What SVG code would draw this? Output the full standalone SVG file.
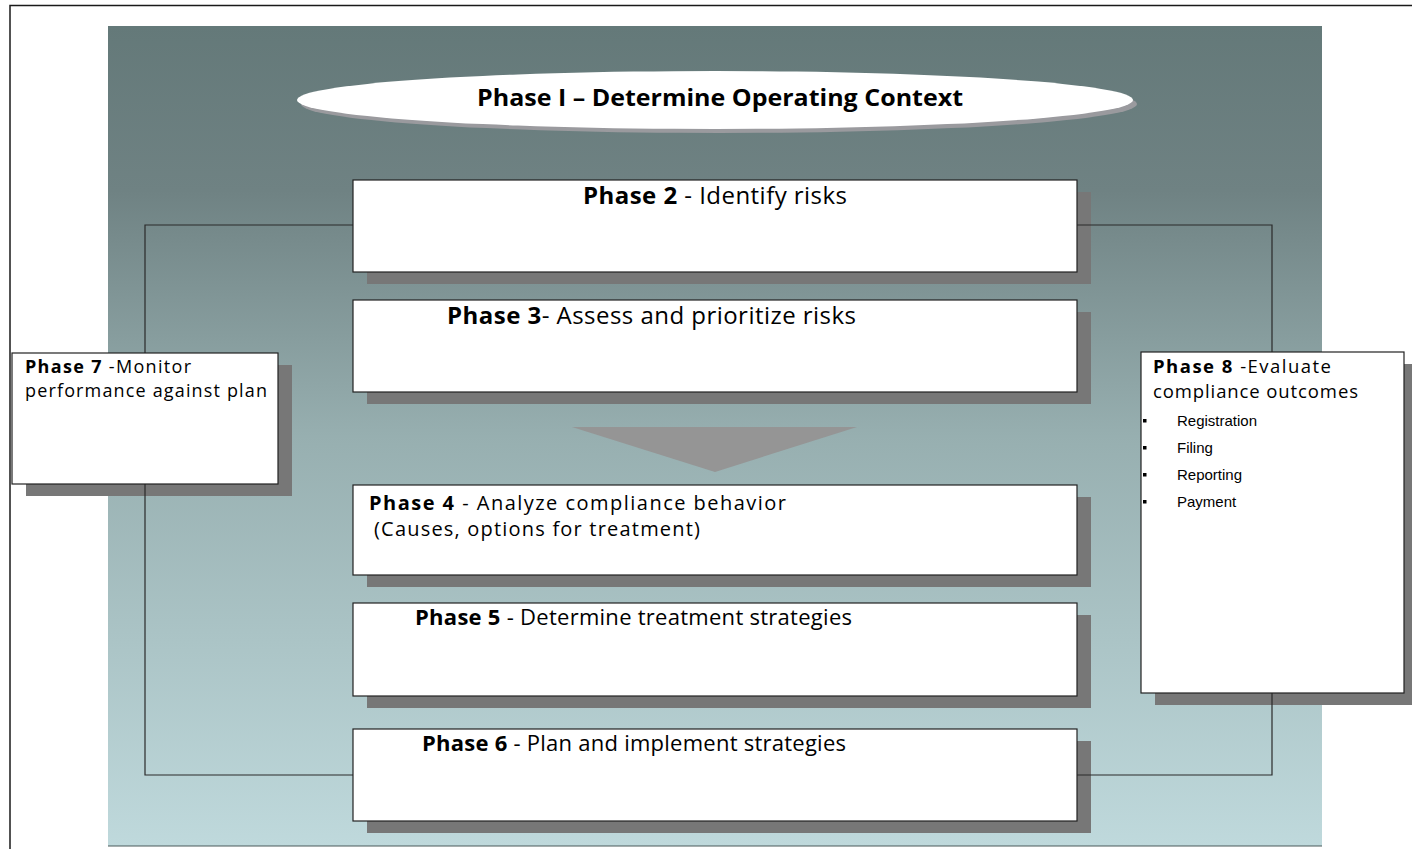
<svg xmlns="http://www.w3.org/2000/svg" width="1412" height="849" viewBox="0 0 1412 849">
  <style>
    .frame { fill: none; stroke: #1a1a1a; stroke-width: 1.5; }
    .shadow { fill: #777777; }
    .box { fill: #ffffff; stroke: #222222; stroke-width: 1.2; }
    .link { fill: none; stroke: #2a2a2a; stroke-width: 1.2; }
    .t { font-family: "Open Sans", "Noto Sans", "DejaVu Sans", sans-serif; fill: #000000; }
    .b { font-weight: bold; }
    .title { font-family: "Open Sans", "Noto Sans", sans-serif; font-weight: bold; font-size: 23px; fill: #000000; }
    .list { font-family: "Liberation Sans", Arial, sans-serif; font-size: 15px; fill: #000000; }
  </style>
  <defs>
    <linearGradient id="panelFill" x1="0" y1="0" x2="0" y2="1">
      <stop offset="0" stop-color="#647979"/>
      <stop offset="0.2" stop-color="#6f8283"/>
      <stop offset="0.5" stop-color="#97afb0"/>
      <stop offset="1" stop-color="#bfd9dc"/>
    </linearGradient>
  </defs>

  <rect width="1412" height="849" fill="#ffffff"/>

  <!-- page frame -->
  <path class="frame" d="M10,849 V5.5 H1412"/>

  <!-- background panel -->
  <rect x="108" y="26" width="1214" height="820" fill="url(#panelFill)"/>
  <line x1="108" y1="846" x2="1322" y2="846" stroke="#4a5a5a" stroke-width="1.2"/>

  <!-- title ellipse -->
  <g id="phase1">
    <ellipse cx="719" cy="104" rx="418" ry="29" fill="#9a9a9e"/>
    <ellipse cx="715" cy="100" rx="418" ry="29" fill="#ffffff"/>
    <text class="title" x="720" y="106" text-anchor="middle" textLength="486" lengthAdjust="spacingAndGlyphs">Phase I – Determine Operating Context</text>
  </g>

  <!-- drop shadows of the boxes -->
  <g id="shadows">
    <rect class="shadow" x="367" y="192" width="724" height="92"/>
    <rect class="shadow" x="367" y="312" width="724" height="92"/>
    <rect class="shadow" x="367" y="497" width="724" height="90"/>
    <rect class="shadow" x="367" y="615" width="724" height="93"/>
    <rect class="shadow" x="367" y="741" width="724" height="92"/>
    <rect class="shadow" x="26" y="365" width="266" height="131"/>
    <rect class="shadow" x="1155" y="364" width="257" height="341"/>
  </g>

  <!-- feedback loop lines -->
  <g id="connectors">
    <path class="link" d="M353,225 H145 V775 H353"/>
    <path class="link" d="M1077,225 H1272 V775 H1077"/>
  </g>

  <!-- flow arrow -->
  <polygon id="flowArrow" points="572,427 857,427 715,472" fill="#959595"/>

  <g id="phase2">
    <rect class="box" x="353" y="180" width="724" height="92"/>
    <text class="t" x="583" y="204" font-size="24" textLength="264" lengthAdjust="spacing"><tspan class="b">Phase 2</tspan> - Identify risks</text>
  </g>

  <g id="phase3">
    <rect class="box" x="353" y="300" width="724" height="92"/>
    <text class="t" x="447" y="324" font-size="24" textLength="409" lengthAdjust="spacing"><tspan class="b">Phase 3</tspan>- Assess and prioritize risks</text>
  </g>

  <g id="phase4">
    <rect class="box" x="353" y="485" width="724" height="90"/>
    <text class="t" x="369" y="510" font-size="20" textLength="417" lengthAdjust="spacing"><tspan class="b">Phase 4</tspan> - Analyze compliance behavior</text>
    <text class="t" x="374" y="536" font-size="20" textLength="326" lengthAdjust="spacing">(Causes, options for treatment)</text>
  </g>

  <g id="phase5">
    <rect class="box" x="353" y="603" width="724" height="93"/>
    <text class="t" x="415" y="625" font-size="22" textLength="437" lengthAdjust="spacing"><tspan class="b">Phase 5</tspan> - Determine treatment strategies</text>
  </g>

  <g id="phase6">
    <rect class="box" x="353" y="729" width="724" height="92"/>
    <text class="t" x="422" y="751" font-size="22" textLength="424" lengthAdjust="spacing"><tspan class="b">Phase 6</tspan> - Plan and implement strategies</text>
  </g>

  <g id="phase7">
    <rect class="box" x="12" y="353" width="266" height="131"/>
    <text class="t" x="25" y="373" font-size="18" textLength="166" lengthAdjust="spacing"><tspan class="b">Phase 7</tspan> -Monitor</text>
    <text class="t" x="25" y="397" font-size="18" textLength="242" lengthAdjust="spacing">performance  against plan</text>
  </g>

  <g id="phase8">
    <rect class="box" x="1141" y="352" width="263" height="341"/>
    <text class="t" x="1153" y="373" font-size="18.5" textLength="178" lengthAdjust="spacing"><tspan class="b">Phase 8</tspan> -Evaluate</text>
    <text class="t" x="1153" y="398" font-size="18.5" textLength="205" lengthAdjust="spacing">compliance  outcomes</text>
    <g fill="#000000">
      <rect x="1143" y="419" width="3.5" height="3.5"/>
      <rect x="1143" y="446" width="3.5" height="3.5"/>
      <rect x="1143" y="473" width="3.5" height="3.5"/>
      <rect x="1143" y="500" width="3.5" height="3.5"/>
    </g>
    <text class="list" x="1177" y="426">Registration</text>
    <text class="list" x="1177" y="453">Filing</text>
    <text class="list" x="1177" y="480">Reporting</text>
    <text class="list" x="1177" y="507">Payment</text>
  </g>
</svg>
